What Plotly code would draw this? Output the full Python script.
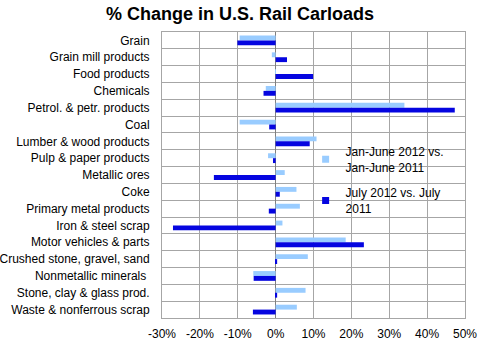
import plotly.graph_objects as go

# Commodity groups, top to bottom
categories = [
    "Grain",
    "Grain mill products",
    "Food products",
    "Chemicals",
    "Petrol. & petr. products",
    "Coal",
    "Lumber & wood products",
    "Pulp & paper products",
    "Metallic ores",
    "Coke",
    "Primary metal products",
    "Iron & steel scrap",
    "Motor vehicles & parts",
    "Crushed stone, gravel, sand",
    "Nonmetallic minerals\u00a0",
    "Stone, clay & glass prod.",
    "Waste & nonferrous scrap",
]

# Percent change, first half 2012 vs first half 2011
half_year_change = [
    -9.5, -1.0, 0.1, -2.6, 34.0, -9.5, 10.8, -2.0, 2.4,
    5.5, 6.4, 1.8, 18.5, 8.5, -5.9, 7.9, 5.6,
]

# Percent change, July 2012 vs July 2011
july_change = [
    -10.1, 3.0, 9.9, -3.2, 47.3, -1.7, 9.0, -0.7, -16.3,
    1.1, -1.8, -27.1, 23.3, 0.4, -5.8, 0.4, -6.0,
]

series_names = ["Jan-June 2012 vs.<br>Jan-June 2011", "July 2012 vs. July<br>2011"]
series_values = [half_year_change, july_change]
series_colors = ["#99CCFF", "#0505E0"]

x_ticks = [-30, -20, -10, 0, 10, 20, 30, 40, 50]
x_tick_labels = ["-30%", "-20%", "-10%", "0%", "10%", "20%", "30%", "40%", "50%"]

FONT = "Liberation Sans, Arial, sans-serif"
GRID = "#A6A6A6"

fig = go.Figure()

for name, vals, color in zip(series_names, series_values, series_colors):
    fig.add_trace(go.Bar(
        y=categories, x=vals, orientation="h", name=name,
        marker=dict(color=color, line=dict(width=0)),
        showlegend=False, legendgroup=name,
    ))

# Small square legend keys
for name, color in zip(series_names, series_colors):
    fig.add_trace(go.Scatter(
        x=[None], y=[None], mode="markers", name=name,
        marker=dict(symbol="square", size=7, color=color),
        legendgroup=name,
    ))

fig.update_layout(
    width=480, height=343,
    margin=dict(l=162, r=15, t=32, b=25),
    paper_bgcolor="white", plot_bgcolor="white",
    font=dict(family=FONT, size=12, color="black"),
    title=dict(
        text="<b>% Change in U.S. Rail Carloads</b>",
        font=dict(family=FONT, size=18, color="black"),
        x=0.5, xref="container", xanchor="center",
        y=1 - 14 / 343, yref="container", yanchor="middle",
    ),
    barmode="group", bargap=0.42, bargroupgap=0.0,
    legend=dict(
        x=0.474, y=0.632, xanchor="left", yanchor="top",
        bgcolor="rgba(0,0,0,0)", borderwidth=0,
        font=dict(family=FONT, size=12, color="black"),
        traceorder="grouped", tracegroupgap=7,
    ),
    shapes=[dict(
        type="rect", xref="paper", yref="paper",
        x0=0.574, x1=0.960, y0=0.35, y1=0.64,
        fillcolor="white", line=dict(width=0), layer="between",
    )],
)

fig.update_xaxes(
    range=[-30, 50], tickvals=x_ticks, ticktext=x_tick_labels,
    showgrid=True, gridcolor=GRID, gridwidth=1,
    zeroline=True, zerolinecolor="#808080", zerolinewidth=1,
    showline=True, linecolor=GRID, linewidth=1, mirror=True,
    ticks="", tickfont=dict(size=12), ticklabelstandoff=5,
    automargin=False, fixedrange=True,
)

fig.update_yaxes(
    type="category", autorange="reversed",
    tickson="boundaries", ticks="",
    showgrid=True, gridcolor=GRID, gridwidth=1,
    showline=True, linecolor=GRID, linewidth=1, mirror=True,
    tickfont=dict(size=12), ticklabelstandoff=9,
    automargin=False, fixedrange=True,
)

fig.write_html("out.html")
